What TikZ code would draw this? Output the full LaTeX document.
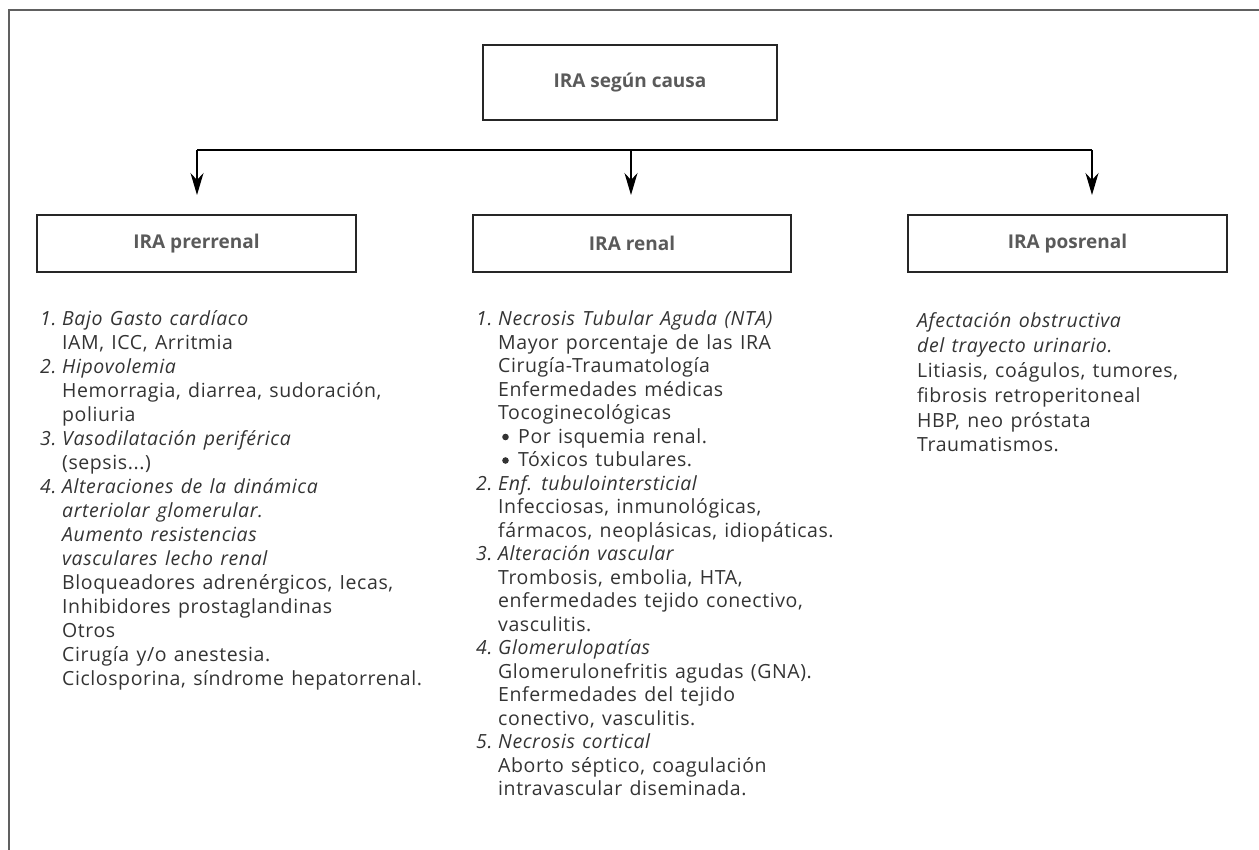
\documentclass[tikz,border=0pt]{standalone}
\usepackage{fontspec}
\setmainfont{Open Sans}
\newfontfamily\bodyfont{Open Sans}[LetterSpace=3,WordSpace=1.3]
\usetikzlibrary{arrows.meta}
\definecolor{txt}{HTML}{333333}
\definecolor{hdr}{HTML}{5A5A5A}
\definecolor{frm}{HTML}{606060}
\newcommand{\nm}[1]{\makebox[22pt][l]{\itshape #1}}
\newcommand{\ind}{\hspace*{22pt}}
\newcommand{\bul}{\hspace*{42pt}}
\begin{document}
\begin{tikzpicture}[x=1pt,y=-1pt,
  hbox/.style={draw=black!85, line width=1.2pt, inner sep=0pt, font=\fontsize{19}{23}\selectfont\bfseries, text=hdr},
  col/.style={anchor=base west, inner sep=0pt, text=txt},
  arr/.style={-{Stealth[length=22pt,width=13pt,inset=7pt]}, line width=1.2pt},
  dot/.style={fill=txt}
]
\useasboundingbox (0,0) rectangle (1259,850);
\draw[frm, line width=2pt] (9,860) -- (9,10) -- (1270,10);

\node[hbox, minimum width=294pt, minimum height=75pt] (top) at (630,82.5) {IRA según causa};
\node[hbox, minimum width=319pt, minimum height=57pt] (pre) at (196.5,243.5) {IRA prerrenal};
\node[hbox, minimum width=318pt, minimum height=57pt] (ren) at (632,243.5) {IRA renal};
\node[hbox, minimum width=319pt, minimum height=57pt] (pos) at (1067.5,243.5) {IRA posrenal};

\coordinate (bL) at (197,150);
\coordinate (bM) at (631,150);
\coordinate (bR) at (1092,150);
\coordinate (aL) at (197,195);
\coordinate (aM) at (631,195);
\coordinate (aR) at (1092,195);
\draw[line width=1.2pt] (bL) -- (bR);
\draw[arr] (bL) -- (aL);
\draw[arr] (bM) -- (aM);
\draw[arr] (bR) -- (aR);

\node[col] (cL) at (40,326) {\parbox[t]{440pt}{\bodyfont\fontsize{19.5}{24}\selectfont
\nm{1.}\textit{Bajo Gasto cardíaco}\\
\ind IAM, ICC, Arritmia\\
\nm{2.}\textit{Hipovolemia}\\
\ind Hemorragia, diarrea, sudoración,\\
\ind poliuria\\
\nm{3.}\textit{Vasodilatación periférica}\\
\ind (sepsis...)\\
\nm{4.}\textit{Alteraciones de la dinámica}\\
\ind\textit{arteriolar glomerular.}\\
\ind\textit{Aumento resistencias}\\
\ind\textit{vasculares lecho renal}\\
\ind Bloqueadores adrenérgicos, Iecas,\\
\ind Inhibidores prostaglandinas\\
\ind Otros\\
\ind Cirugía y/o anestesia.\\
\ind Ciclosporina, síndrome hepatorrenal.}};

\node[col] (cM) at (476,326) {\parbox[t]{440pt}{\bodyfont\fontsize{19.5}{23.5}\selectfont
\nm{1.}\textit{Necrosis Tubular Aguda (NTA)}\\
\ind Mayor porcentaje de las IRA\\
\ind Cirugía-Traumatología\\
\ind Enfermedades médicas\\
\ind Tocoginecológicas\\
\bul Por isquemia renal.\\
\bul Tóxicos tubulares.\\
\nm{2.}\textit{Enf. tubulointersticial}\\
\ind Infecciosas, inmunológicas,\\
\ind fármacos, neoplásicas, idiopáticas.\\
\nm{3.}\textit{Alteración vascular}\\
\ind Trombosis, embolia, HTA,\\
\ind enfermedades tejido conectivo,\\
\ind vasculitis.\\
\nm{4.}\textit{Glomerulopatías}\\
\ind Glomerulonefritis agudas (GNA).\\
\ind Enfermedades del tejido\\
\ind conectivo, vasculitis.\\
\nm{5.}\textit{Necrosis cortical}\\
\ind Aborto séptico, coagulación\\
\ind intravascular diseminada.}};
\fill[dot] (505.5,437) circle (3.3pt);
\fill[dot] (505.5,460.5) circle (3.3pt);

\node[col] (cR) at (917,328) {\parbox[t]{330pt}{\bodyfont\fontsize{19.5}{24.8}\selectfont
\textit{Afectación obstructiva}\\
\textit{del trayecto urinario.}\\
Litiasis, coágulos, tumores,\\
fibrosis retroperitoneal\\
HBP, neo próstata\\
Traumatismos.}};
\end{tikzpicture}
\end{document}
